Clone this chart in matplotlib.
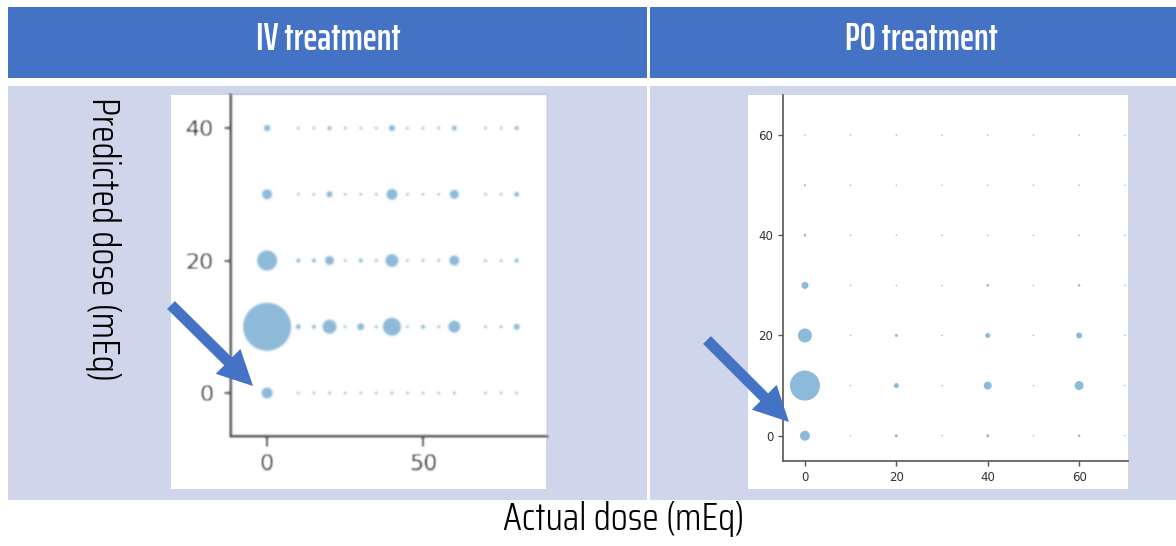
import matplotlib.pyplot as plt
import numpy as np
from matplotlib.patches import Rectangle, FancyArrow
from matplotlib.transforms import Affine2D

# IV treatment: number of cases per (actual, predicted) dose cell
iv_actual = [0, 10, 15, 20, 25, 30, 35, 40, 45, 50, 55, 60, 70, 75, 80, 90]
iv_predicted = [0, 10, 20, 30, 40]
iv_counts = [
    [30, 1, 1, 2, 1, 1, 1, 2, 1, 1, 1, 2, 1, 1, 1, 0],
    [576, 6, 4, 49, 1, 12, 2, 81, 1, 4, 2, 36, 2, 2, 9, 1],
    [100, 4, 4, 20, 1, 4, 2, 42, 1, 2, 2, 25, 2, 2, 4, 1],
    [25, 1, 1, 9, 1, 1, 1, 30, 1, 1, 1, 20, 1, 1, 6, 1],
    [10, 1, 1, 4, 1, 1, 1, 9, 1, 1, 1, 6, 1, 1, 4, 1],
]

# PO treatment
po_actual = [0, 10, 20, 30, 40, 50, 60, 70]
po_predicted = [0, 10, 20, 30, 40, 50, 60]
po_counts = [
    [44, 1, 4, 1, 4, 1, 3, 1],
    [400, 1, 11, 1, 28, 1, 36, 1],
    [87, 1, 4, 1, 11, 1, 16, 1],
    [22, 1, 1, 1, 3, 1, 3, 1],
    [3, 1, 1, 1, 1, 1, 1, 1],
    [2, 1, 1, 1, 1, 1, 1, 1],
    [1, 1, 1, 1, 1, 1, 1, 1],
]

panel_titles = ["IV treatment", "PO treatment"]
x_label = "Actual dose (mEq)"
y_label = "Predicted dose (mEq)"

HEAD = "#4472C4"
BODY = "#CFD5EA"
title_font = ["Saira ExtraCondensed", "DejaVu Sans"]
label_font = ["Saira Condensed", "Saira SemiCondensed", "DejaVu Sans"]

W, H = 1176, 546
fig = plt.figure(figsize=(W / 100, H / 100), dpi=100)
# pixel coordinates measured from the top-left corner
px = Affine2D().scale(1 / 100, -1 / 100).translate(0, H / 100) + fig.dpi_scale_trans


def box(x0, y0, x1, y1, color, z=-2):
    fig.add_artist(Rectangle((x0, y0), x1 - x0, y1 - y0, transform=px,
                             facecolor=color, edgecolor="none", zorder=z))


def soften(im, dpi, sigma=1.0):
    # gaussian blur used as an agg filter
    r = int(3 * sigma) + 1
    k = np.exp(-0.5 * (np.arange(-r, r + 1) / sigma) ** 2)
    k /= k.sum()
    a = np.pad(im, ((2 * r, 2 * r), (2 * r, 2 * r), (0, 0)))
    n = a.shape[0] - 2 * r
    b = sum(k[i] * a[i:i + n] for i in range(2 * r + 1))
    m = b.shape[1] - 2 * r
    c = sum(k[i] * b[:, i:i + m] for i in range(2 * r + 1))
    return c, -r, -r


def axes_px(x0, y0, x1, y1):
    return fig.add_axes([x0 / W, 1 - y1 / H, (x1 - x0) / W, (y1 - y0) / H])


def bubbles(ax, xs, ys, counts, scale, floor):
    gx, gy = np.meshgrid(xs, ys)
    c = np.asarray(counts, dtype=float)
    keep = c > 0
    ax.scatter(gx[keep], gy[keep], s=np.maximum(c[keep] * scale, floor),
               color="tab:blue", alpha=0.5, linewidths=0)
    for side in ("top", "right"):
        ax.spines[side].set_visible(False)


# header and body cells
box(8, 7, 647, 78, HEAD)
box(650, 7, 1176, 78, HEAD)
box(8, 86, 647, 500, BODY)
box(650, 86, 1176, 500, BODY)
# white plot backgrounds
box(171, 95, 546, 489, "white", z=-1)
box(748, 95, 1128, 489, "white", z=-1)

# IV plot
ax1 = axes_px(230, 95, 546, 436)
bubbles(ax1, iv_actual, iv_predicted, iv_counts, 2.07, 3.5)
ax1.set_xlim(-11.9, 89.4)
ax1.set_ylim(-6.5, 45)
ax1.set_xticks([0, 50])
ax1.set_yticks([0, 20, 40])
for s in ("left", "bottom"):
    ax1.spines[s].set_linewidth(2)
    ax1.spines[s].set_color("#505050")
ax1.tick_params(axis="x", length=8, width=1.5, pad=5, labelsize=16,
                colors="#505050", labelcolor="#2a2a2a")
ax1.tick_params(axis="y", length=4.5, width=1.5, pad=7, labelsize=16,
                colors="#505050", labelcolor="#2a2a2a")
ax1.set_agg_filter(soften)

# PO plot
ax2 = axes_px(783, 95, 1128, 461)
bubbles(ax2, po_actual, po_predicted, po_counts, 1.17, 1.2)
ax2.set_xlim(-4.8, 70.7)
ax2.set_ylim(-5.05, 68)
ax2.set_xticks([0, 20, 40, 60])
ax2.set_yticks([0, 20, 40, 60])
for s in ("left", "bottom"):
    ax2.spines[s].set_linewidth(1.2)
    ax2.spines[s].set_color("#555555")
ax2.tick_params(length=3.5, width=1, labelsize=8.5, colors="#555555",
                labelcolor="#333333")

# header titles
fig.text(328, 50, panel_titles[0], transform=px, ha="center", va="baseline",
         color="white", fontsize=27, fontweight=600, family=title_font)
fig.text(921, 50, panel_titles[1], transform=px, ha="center", va="baseline",
         color="white", fontsize=27, fontweight=600, family=title_font)

# shared axis labels
fig.text(624, 530, x_label, transform=px, ha="center", va="baseline",
         color="black", fontsize=27.5, fontweight=300, family=label_font)
fig.text(103, 239, y_label, transform=px, ha="center", va="center",
         rotation=270, color="black", fontsize=27.5, fontweight=300,
         family=label_font)

# arrows pointing at the zero-dose cells
for (x0, y0), (x1, y1) in [((171, 305), (253, 386)), ((707, 340), (789, 422))]:
    fig.add_artist(FancyArrow(x0, y0, x1 - x0, y1 - y0, width=11,
                              head_width=35, head_length=35,
                              length_includes_head=True, transform=px,
                              facecolor=HEAD, edgecolor="none", zorder=5))

fig.savefig("out.png", dpi=100, facecolor="white")
